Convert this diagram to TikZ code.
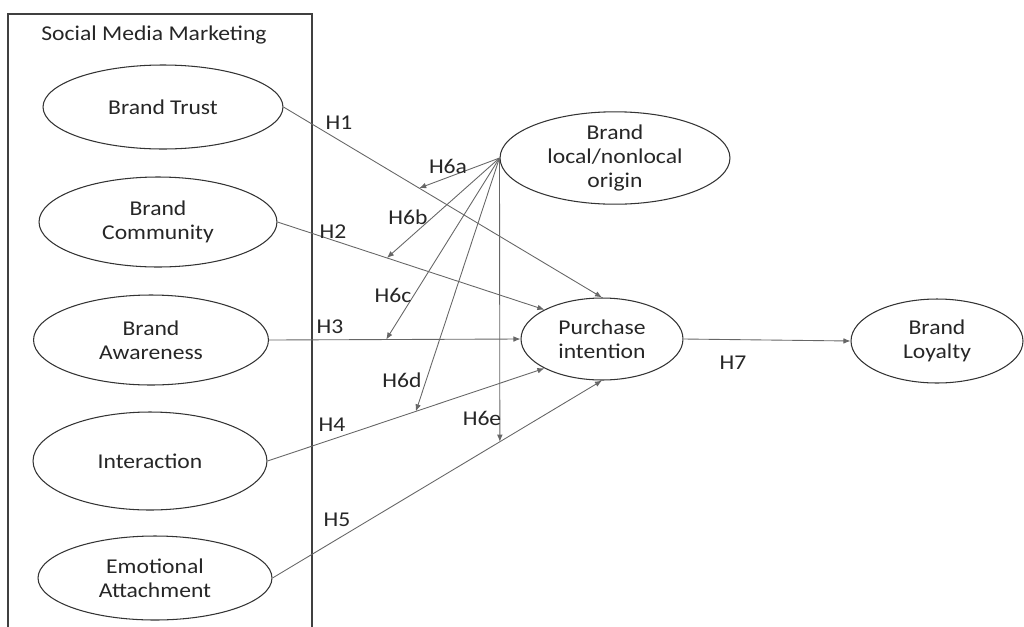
\documentclass[tikz,border=0pt]{standalone}
\usepackage{fontspec}
\setmainfont[FakeStretch=1.12]{Carlito}
\usetikzlibrary{positioning, arrows.meta, calc, shapes.geometric}
\tikzset{arr/.style={-{Latex[length=4pt, width=3.2pt]}}}

\begin{document}
\begin{tikzpicture}[
      x=0.02cm, y=-0.02cm,
      every node/.style={align=center, text=black!85, font=\fontsize{12}{13.4}\selectfont},
      construct/.style={draw=black!80, line width=0.6pt, ellipse, inner sep=0pt},
      path/.style={draw=black!60, line width=0.5pt, arr},
      hyp/.style={inner sep=1pt},
  ]
      \useasboundingbox (0,0) rectangle (1024,626);

      % Frame around the social media marketing constructs
      \draw[black!75, line width=0.7pt] (8,640) -- (8,14) -- (312,14) -- (312,640);
      \node (smm) at (154,35) {Social Media Marketing};

      % Left column: social media marketing constructs
      \node[construct, minimum width=4.8cm, minimum height=1.68cm] (trust) at (163,107) {Brand Trust};
      \node[construct, minimum width=4.76cm, minimum height=1.8cm] (community) at (158,222) {Brand\\Community};
      \node[construct, minimum width=4.7cm, minimum height=1.8cm] (awareness) at (151,340) {Brand\\Awareness};
      \node[construct, minimum width=4.68cm, minimum height=1.96cm] (interaction) at (150,461) {Interaction};
      \node[construct, minimum width=4.68cm, minimum height=1.68cm] (attachment) at (155,578) {Emotional\\Attachment};

      % Moderator, mediator and outcome
      \node[construct, minimum width=4.6cm, minimum height=1.64cm] (origin) at (615,158) {Brand\\local/nonlocal\\origin};
      \node[construct, minimum width=3.24cm, minimum height=1.64cm] (purchase) at (602,339) {Purchase\\intention};
      \node[construct, minimum width=3.44cm, minimum height=1.68cm] (loyalty) at (937,341) {Brand\\Loyalty};

      % H1 -- H5: constructs -> purchase intention
      \draw[path] (trust.east) -- (purchase.north);
      \draw[path] (community.east) -- (purchase.north west);
      \draw[path] (awareness.east) -- (purchase.west);
      \draw[path] (interaction.east) -- (purchase.south west);
      \draw[path] (attachment.east) -- (purchase.south);

      % H7: purchase intention -> loyalty
      \draw[path] (purchase.east) -- (loyalty.west);

      % Moderation points on H1 -- H5
      \coordinate (m1) at ($(trust.east)!0.426!(purchase.north)$);
      \coordinate (m2) at ($(community.east)!0.41!(purchase.north west)$);
      \coordinate (m3) at ($(awareness.east)!0.466!(purchase.west)$);
      \coordinate (m4) at ($(interaction.east)!0.536!(purchase.south west)$);
      \coordinate (m5) at ($(attachment.east)!0.69!(purchase.south)$);

      % H6a -- H6e: origin moderates each path
      \draw[path] (origin.west) -- (m1);
      \draw[path] (origin.west) -- (m2);
      \draw[path] (origin.west) -- (m3);
      \draw[path] (origin.west) -- (m4);
      \draw[path] (origin.west) -- (m5);

      % Hypothesis labels
      \node[hyp] (h1) at (339,123) {H1};
      \node[hyp] (h2) at (333,232) {H2};
      \node[hyp] (h3) at (330,327) {H3};
      \node[hyp] (h4) at (332,425) {H4};
      \node[hyp] (h5) at (337,520) {H5};
      \node[hyp] (h6a) at (448,166) {H6a};
      \node[hyp] (h6b) at (408,217) {H6b};
      \node[hyp] (h6c) at (393,295) {H6c};
      \node[hyp] (h6d) at (402,380) {H6d};
      \node[hyp] (h6e) at (482,418) {H6e};
      \node[hyp] (h7) at (733,363) {H7};

\end{tikzpicture}
\end{document}
